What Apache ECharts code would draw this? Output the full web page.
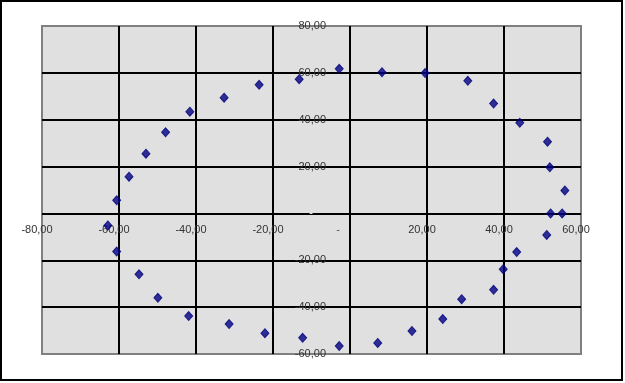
<!DOCTYPE html>
<html><head><meta charset="utf-8">
<script src="https://cdn.jsdelivr.net/npm/echarts@6/dist/echarts.min.js"></script>
<style>html,body{margin:0;padding:0;background:#fff}#c{width:625px;height:383px}</style>
</head><body><div id="c"></div>
<script>
const xValues = [-2.8, 8.3, 19.5, 30.6, 37.3, 44.1, 51.3, 51.9, 55.8, 55.1, 52.1, 51.1, 43.3, 39.8, 37.3, 29.0, 24.1, 16.1, 7.2, -2.8, -12.3, -22.1, -31.4, -41.9, -49.9, -54.8, -60.6, -62.9, -60.6, -57.4, -53.0, -47.9, -41.6, -32.7, -23.6, -13.2];
const yValues = [61.7, 60.3, 59.9, 56.6, 46.9, 38.7, 30.6, 19.7, 9.8, 0.0, 0.0, -9.2, -16.5, -23.8, -32.6, -36.6, -45.1, -50.2, -55.3, -56.6, -53.1, -51.1, -47.2, -43.8, -36.0, -26.0, -16.3, -5.1, 5.6, 15.7, 25.5, 34.6, 43.4, 49.4, 54.9, 57.3];
const xTicks = [-80, -60, -40, -20, 0, 20, 40, 60];
const yTicks = [-60, -40, -20, 0, 20, 40, 60, 80];

const W = 625, H = 383;
const G = {left: 42, right: 44, top: 26, bottom: 29};
const gw = W - G.left - G.right, gh = H - G.top - G.bottom;
const xMin = xTicks[0], xMax = xTicks[xTicks.length - 1];
const yMin = yTicks[0], yMax = yTicks[yTicks.length - 1];
// shift axes so they cross at zero (Excel style)
const xAxisOffset = -((0 - yMin) / (yMax - yMin)) * gh;
const yAxisOffset = -((0 - xMin) / (xMax - xMin)) * gw;

const points = xValues.map((x, i) => [x, yValues[i]]);
const fmt = v => v === 0 ? '{z|-}' : v.toFixed(2).replace('.', ',');
const font = 'Liberation Sans, Arial, sans-serif';
const chart = echarts.init(document.getElementById('c'), null, {renderer: 'canvas'});
chart.setOption({
  animation: false,
  backgroundColor: '#fff',
  graphic: [{type: 'rect', shape: {x: 1, y: 1, width: 621, height: 379}, style: {fill: 'none', stroke: '#000', lineWidth: 2}, z: 100}],
  grid: Object.assign({show: true, containLabel: false, outerBoundsMode: 'none', backgroundColor: '#e0e0e0', borderColor: '#808080', borderWidth: 2}, G),
  xAxis: {
    type: 'value', min: xMin, max: xMax, interval: 20, position: 'bottom', offset: xAxisOffset,
    axisLine: {show: false, onZero: false},
    axisTick: {show: false},
    splitLine: {show: true, showMinLine: false, showMaxLine: false, lineStyle: {color: '#000', width: 2}},
    axisLabel: {
      formatter: fmt, margin: 11, color: '#333', fontFamily: font, fontSize: 11,
      padding: [0, 10, 0, 0], showMinLabel: true, showMaxLabel: true,
      rich: {z: {color: '#555', fontSize: 11, fontFamily: font, padding: [0, 14, 0, 0]}}
    }
  },
  yAxis: {
    type: 'value', min: yMin, max: yMax, interval: 20, position: 'left', offset: yAxisOffset,
    axisLine: {show: false, onZero: false},
    axisTick: {show: false},
    splitLine: {show: true, showMinLine: false, showMaxLine: false, lineStyle: {color: '#000', width: 2}},
    axisLabel: {
      formatter: fmt, margin: 24, color: '#333', fontFamily: font, fontSize: 11,
      showMinLabel: true, showMaxLabel: true,
      rich: {z: {color: '#fff', fontSize: 11, fontFamily: font, padding: [0, 13, 0, 0]}}
    }
  },
  series: [{
    type: 'scatter', data: points, symbol: 'diamond', symbolSize: [8, 9],
    itemStyle: {color: '#000080', borderColor: '#000080', borderWidth: 1}, z: 2
  }]
});
</script></body></html>
